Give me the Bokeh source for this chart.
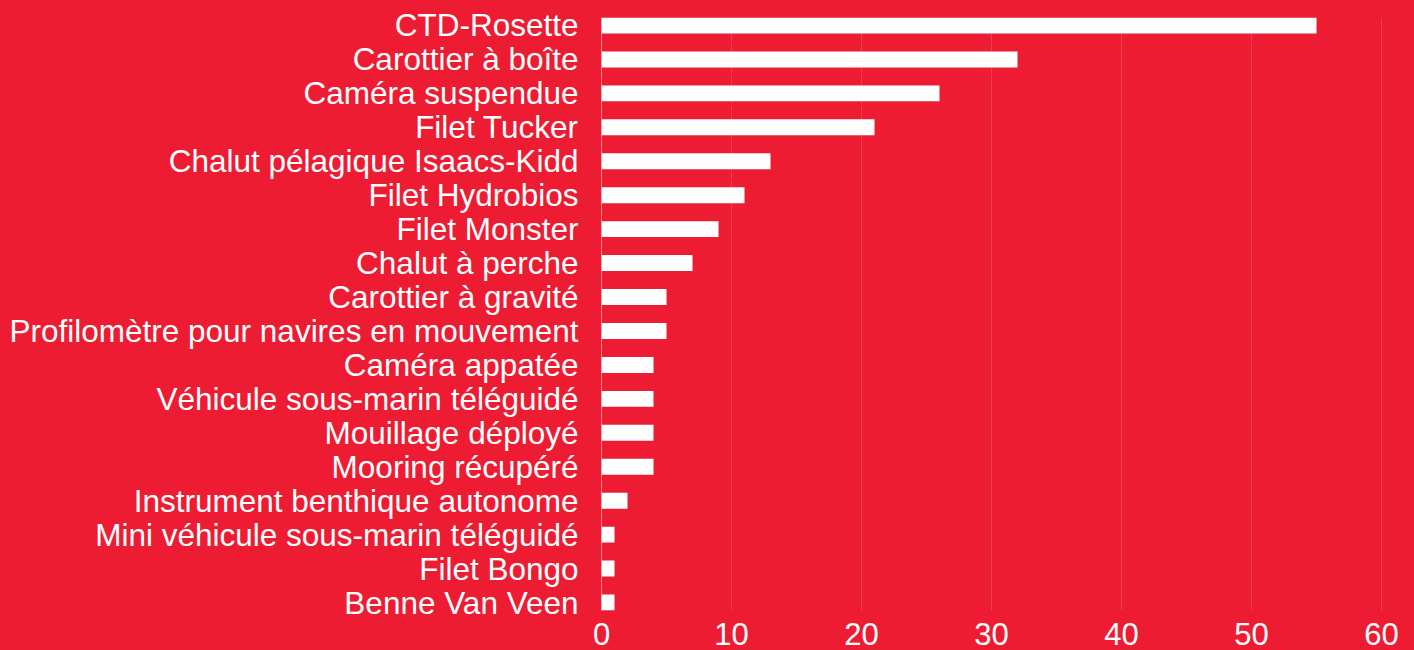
from bokeh.plotting import figure
from bokeh.embed import file_html
from bokeh.resources import INLINE
from bokeh.models import Range1d, FixedTicker, ColumnDataSource

categories = [
    "CTD-Rosette",
    "Carottier à boîte",
    "Caméra suspendue",
    "Filet Tucker",
    "Chalut pélagique Isaacs-Kidd",
    "Filet Hydrobios",
    "Filet Monster",
    "Chalut à perche",
    "Carottier à gravité",
    "Profilomètre pour navires en mouvement",
    "Caméra appatée",
    "Véhicule sous-marin téléguidé",
    "Mouillage déployé",
    "Mooring récupéré",
    "Instrument benthique autonome",
    "Mini véhicule sous-marin téléguidé",
    "Filet Bongo",
    "Benne Van Veen",
]
values = [55, 32, 26, 21, 13, 11, 9, 7, 5, 5, 4, 4, 4, 4, 2, 1, 1, 1]
x_ticks = [0, 10, 20, 30, 40, 50, 60]

BG = "#EE1C32"
FONT = "Liberation Sans"

n = len(categories)
ypos = [n - 1 - i for i in range(n)]
src = ColumnDataSource(dict(y=ypos, v=values, name=categories))

p = figure(
    width=1414, height=650,
    x_range=Range1d(0, 62.54),
    y_range=Range1d(-0.235, n - 1 + 0.235),
    output_backend="svg", toolbar_location=None,
    min_border_left=601, min_border_right=0, min_border_top=17, min_border_bottom=40,
)
p.background_fill_color = BG
p.border_fill_color = BG
p.outline_line_color = None

p.hbar(y="y", right="v", left=0, height=0.47, source=src,
       fill_color="white", line_color=None)

# y axis
p.yaxis.ticker = FixedTicker(ticks=ypos)
p.yaxis.major_label_overrides = {yy: c for yy, c in zip(ypos, categories)}
p.yaxis.major_label_text_font = FONT
p.yaxis.major_label_text_font_size = "31.5px"
p.yaxis.major_label_text_color = "white"
p.yaxis.major_label_standoff = 17
p.yaxis.major_tick_line_color = None
p.yaxis.minor_tick_line_color = None
p.yaxis.axis_line_color = "white"
p.yaxis.axis_line_alpha = 0.5

# x axis
p.xaxis.ticker = FixedTicker(ticks=x_ticks)
p.xaxis.major_label_text_font = FONT
p.xaxis.major_label_text_font_size = "31px"
p.xaxis.major_label_text_color = "white"
p.xaxis.major_label_standoff = 6
p.xaxis.major_tick_line_color = None
p.xaxis.minor_tick_line_color = None
p.xaxis.axis_line_color = None

p.ygrid.grid_line_color = None
p.xgrid.grid_line_color = "white"
p.xgrid.grid_line_alpha = 0.15

html = file_html(p, INLINE)
html = html.replace(
    "<head>",
    "<head><style>html,body{margin:0;padding:0;background:#EE1C32;overflow:hidden}</style>",
    1,
)
open("out.html", "w").write(html)
